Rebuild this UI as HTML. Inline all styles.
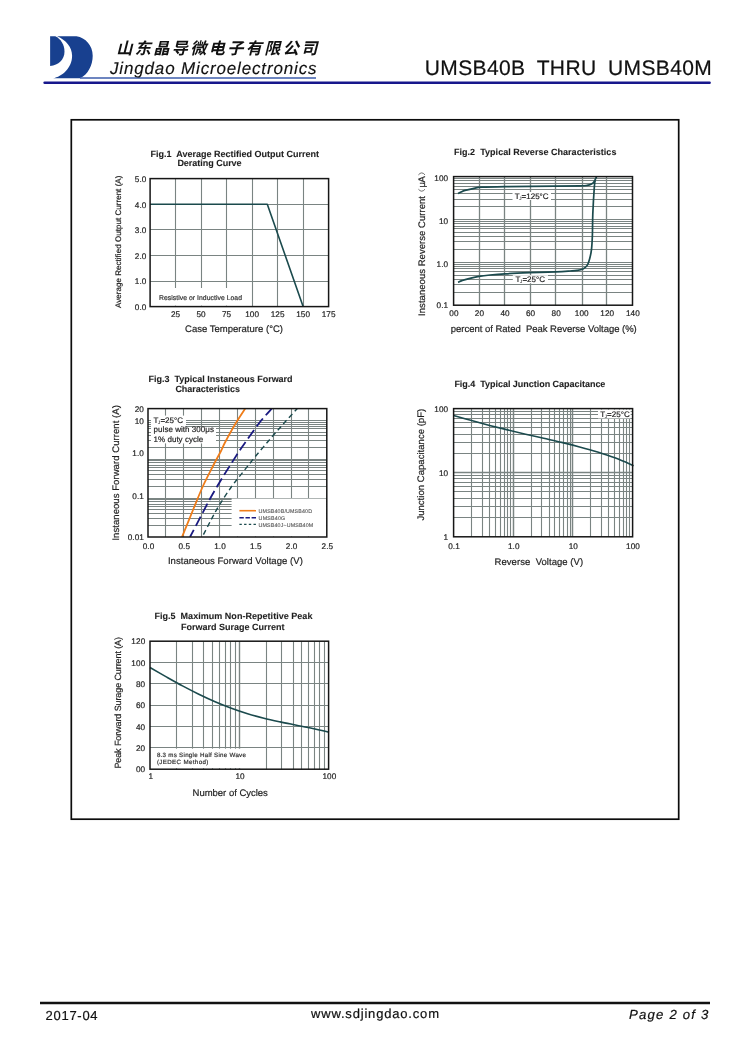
<!DOCTYPE html>
<html><head><meta charset="utf-8"><title>UMSB40B THRU UMSB40M</title>
<style>html,body{margin:0;padding:0;background:#fff}svg{display:block;will-change:transform;filter:blur(.35px)}text{font-family:"Liberation Sans",sans-serif;text-rendering:geometricPrecision}</style></head>
<body>
<svg width="750" height="1060" viewBox="0 0 750 1060">
<!-- header -->
<path d="M50.1,36.2 H55.3 C60.5,38.5 64.5,44.5 64.5,51.5 C64.5,59.5 58.5,65.3 50.1,65.9 Z" fill="#18408f"/>
<path d="M57.1,36.2 H76.5 C85.5,37.5 92.7,45.5 92.7,55.7 C92.7,65.5 88,74 80.2,78.3 H53.1 C62,76.5 72.1,68 72.1,55.7 C72.1,47 66,40 57.1,36.2 Z" fill="#18408f"/>
<line x1="80.00" y1="78.00" x2="316.00" y2="78.00" stroke="#3d5dab" stroke-width="1.6"/>
<line x1="44.60" y1="82.80" x2="709.60" y2="82.80" stroke="#17178c" stroke-width="2.5" stroke-linecap="round"/>
<text x="116.30" y="53.60" font-size="16.1" font-style="italic" font-weight="bold" letter-spacing="2.4" fill="#111" style="font-family:'Liberation Sans','Noto Sans CJK SC',sans-serif" xml:space="preserve">山东晶导微电子有限公司</text>
<text x="110.00" y="73.90" font-size="17" font-style="italic" letter-spacing="0.844" fill="#111" stroke="#111" stroke-width="0.15" xml:space="preserve">Jingdao Microelectronics</text>
<text x="424.80" y="74.80" font-size="21" letter-spacing="0.380" fill="#111" stroke="#111" stroke-width="0.2" word-spacing="5.3" xml:space="preserve">UMSB40B THRU UMSB40M</text>
<rect x="71.30" y="119.80" width="607.40" height="699.40" fill="none" stroke="#0c0c0c" stroke-width="1.7"/>
<line x1="40.00" y1="1003.00" x2="710.00" y2="1003.00" stroke="#111" stroke-width="2.3"/>
<text x="45.60" y="1020.00" font-size="13" letter-spacing="0.715" fill="#111" stroke="#111" stroke-width="0.2" xml:space="preserve">2017-04</text>
<text x="311.00" y="1018.00" font-size="13" letter-spacing="0.819" fill="#111" stroke="#111" stroke-width="0.2" xml:space="preserve">www.sdjingdao.com</text>
<text x="629.00" y="1018.60" font-size="13.2" font-style="italic" letter-spacing="1.188" fill="#111" stroke="#111" stroke-width="0.2" xml:space="preserve">Page 2 of 3</text>
<!-- fig1 -->
<path d="M150.1,204.5H328.6M150.1,229.5H328.6M150.1,255.5H328.6M150.1,281.5H328.6M175.5,178.6V306.6M201.5,178.6V306.6M226.5,178.6V306.6M252.5,178.6V306.6M277.5,178.6V306.6M303.5,178.6V306.6" stroke="#7a8482" stroke-width="1.1" fill="none"/>
<rect x="151.10" y="288.00" width="98.90" height="17.60" fill="#fff" stroke="none" stroke-width="1"/>
<path d="M150.1,204.20 H267.3 L303.10,306.6" stroke="#1b4a4d" stroke-width="1.6" fill="none" stroke-linejoin="round"/>
<rect x="150.10" y="178.60" width="178.50" height="128.00" fill="none" stroke="#161616" stroke-width="1.5"/>
<text x="150.60" y="156.70" font-size="9" font-weight="bold" letter-spacing="0.001" fill="#1f1f1f" stroke="#1f1f1f" stroke-width="0.1" xml:space="preserve">Fig.1  Average Rectified Output Current</text>
<text x="177.40" y="166.40" font-size="9" font-weight="bold" letter-spacing="-0.024" fill="#1f1f1f" stroke="#1f1f1f" stroke-width="0.1" xml:space="preserve">Derating Curve</text>
<text x="146.38" y="182.05" font-size="8.2" letter-spacing="0.080" text-anchor="end" fill="#1f1f1f" stroke="#1f1f1f" stroke-width="0.2" xml:space="preserve">5.0</text>
<text x="146.38" y="207.65" font-size="8.2" letter-spacing="0.080" text-anchor="end" fill="#1f1f1f" stroke="#1f1f1f" stroke-width="0.2" xml:space="preserve">4.0</text>
<text x="146.38" y="233.25" font-size="8.2" letter-spacing="0.080" text-anchor="end" fill="#1f1f1f" stroke="#1f1f1f" stroke-width="0.2" xml:space="preserve">3.0</text>
<text x="146.38" y="258.85" font-size="8.2" letter-spacing="0.080" text-anchor="end" fill="#1f1f1f" stroke="#1f1f1f" stroke-width="0.2" xml:space="preserve">2.0</text>
<text x="146.38" y="284.45" font-size="8.2" letter-spacing="0.080" text-anchor="end" fill="#1f1f1f" stroke="#1f1f1f" stroke-width="0.2" xml:space="preserve">1.0</text>
<text x="146.38" y="310.05" font-size="8.2" letter-spacing="0.080" text-anchor="end" fill="#1f1f1f" stroke="#1f1f1f" stroke-width="0.2" xml:space="preserve">0.0</text>
<text x="175.64" y="317.40" font-size="8.2" letter-spacing="0.080" text-anchor="middle" fill="#1f1f1f" stroke="#1f1f1f" stroke-width="0.2" xml:space="preserve">25</text>
<text x="201.14" y="317.40" font-size="8.2" letter-spacing="0.080" text-anchor="middle" fill="#1f1f1f" stroke="#1f1f1f" stroke-width="0.2" xml:space="preserve">50</text>
<text x="226.64" y="317.40" font-size="8.2" letter-spacing="0.080" text-anchor="middle" fill="#1f1f1f" stroke="#1f1f1f" stroke-width="0.2" xml:space="preserve">75</text>
<text x="252.14" y="317.40" font-size="8.2" letter-spacing="0.080" text-anchor="middle" fill="#1f1f1f" stroke="#1f1f1f" stroke-width="0.2" xml:space="preserve">100</text>
<text x="277.64" y="317.40" font-size="8.2" letter-spacing="0.080" text-anchor="middle" fill="#1f1f1f" stroke="#1f1f1f" stroke-width="0.2" xml:space="preserve">125</text>
<text x="303.14" y="317.40" font-size="8.2" letter-spacing="0.080" text-anchor="middle" fill="#1f1f1f" stroke="#1f1f1f" stroke-width="0.2" xml:space="preserve">150</text>
<text x="328.64" y="317.40" font-size="8.2" letter-spacing="0.080" text-anchor="middle" fill="#1f1f1f" stroke="#1f1f1f" stroke-width="0.2" xml:space="preserve">175</text>
<text x="185.00" y="332.00" font-size="9.5" letter-spacing="0.020" fill="#1f1f1f" stroke="#1f1f1f" stroke-width="0.2" xml:space="preserve">Case Temperature (°C)</text>
<text transform="translate(120.50,308.00) rotate(-90)" font-size="8" letter-spacing="0.039" fill="#1f1f1f" stroke="#1f1f1f" stroke-width="0.2" xml:space="preserve">Average Rectified Output Current (A)</text>
<text x="159.00" y="299.60" font-size="6.8" letter-spacing="0.052" fill="#333" stroke="#333" stroke-width="0.2" xml:space="preserve">Resistive or Inductive Load</text>
<!-- fig2 -->
<path d="M453.6,206.5H632.5M453.6,199.5H632.5M453.6,193.5H632.5M453.6,189.5H632.5M453.6,186.5H632.5M453.6,183.5H632.5M453.6,180.5H632.5M453.6,178.5H632.5M453.6,219.5H632.5M453.6,249.5H632.5M453.6,241.5H632.5M453.6,236.5H632.5M453.6,232.5H632.5M453.6,228.5H632.5M453.6,226.5H632.5M453.6,223.5H632.5M453.6,221.5H632.5M453.6,262.5H632.5M453.6,292.5H632.5M453.6,284.5H632.5M453.6,279.5H632.5M453.6,275.5H632.5M453.6,271.5H632.5M453.6,268.5H632.5M453.6,266.5H632.5M453.6,264.5H632.5" stroke="#7a8482" stroke-width="1.1" fill="none"/>
<path d="M479.5,176.6V305.2M504.5,176.6V305.2M530.5,176.6V305.2M555.5,176.6V305.2M582.5,176.6V305.2M606.5,176.6V305.2" stroke="#7a8482" stroke-width="1.3" fill="none"/>
<rect x="512.50" y="192.00" width="38.50" height="8.00" fill="#fff" stroke="none" stroke-width="1"/>
<rect x="512.80" y="275.20" width="35.20" height="8.00" fill="#fff" stroke="none" stroke-width="1"/>
<path d="M458.00,193.60C458.50,193.33 459.83,192.53 461.00,192.00C462.17,191.47 463.00,190.97 465.00,190.40C467.00,189.83 470.17,189.13 473.00,188.60C475.83,188.07 476.67,187.53 482.00,187.20C487.33,186.87 492.83,186.77 505.00,186.60C517.17,186.43 542.50,186.32 555.00,186.20C567.50,186.08 574.67,186.03 580.00,185.90C585.33,185.77 585.08,185.72 587.00,185.40C588.92,185.08 590.30,184.67 591.50,184.00C592.70,183.33 593.35,182.63 594.20,181.40C595.05,180.17 596.20,177.40 596.60,176.60" stroke="#1b4a4d" stroke-width="1.7" fill="none"/>
<path d="M458.00,282.20C458.67,281.93 460.33,281.17 462.00,280.60C463.67,280.03 465.17,279.50 468.00,278.80C470.83,278.10 475.33,277.03 479.00,276.40C482.67,275.77 485.67,275.43 490.00,275.00C494.33,274.57 498.33,274.18 505.00,273.80C511.67,273.42 521.50,273.03 530.00,272.70C538.50,272.37 549.33,272.08 556.00,271.80C562.67,271.52 566.50,271.23 570.00,271.00C573.50,270.77 574.83,270.75 577.00,270.40C579.17,270.05 581.30,269.73 583.00,268.90C584.70,268.07 586.10,267.05 587.20,265.40C588.30,263.75 588.88,261.67 589.60,259.00C590.32,256.33 591.03,253.40 591.50,249.40C591.97,245.40 592.18,240.90 592.40,235.00C592.62,229.10 592.47,222.17 592.80,214.00C593.13,205.83 593.98,191.58 594.40,186.00C594.82,180.42 595.15,181.42 595.30,180.50" stroke="#1b4a4d" stroke-width="1.7" fill="none"/>
<rect x="453.60" y="176.60" width="178.90" height="128.60" fill="none" stroke="#161616" stroke-width="1.5"/>
<text x="454.00" y="155.30" font-size="9" font-weight="bold" letter-spacing="0.027" fill="#1f1f1f" stroke="#1f1f1f" stroke-width="0.1" xml:space="preserve">Fig.2  Typical Reverse Characteristics</text>
<text x="448.18" y="181.15" font-size="8.2" letter-spacing="0.080" text-anchor="end" fill="#1f1f1f" stroke="#1f1f1f" stroke-width="0.2" xml:space="preserve">100</text>
<text x="448.18" y="223.55" font-size="8.2" letter-spacing="0.080" text-anchor="end" fill="#1f1f1f" stroke="#1f1f1f" stroke-width="0.2" xml:space="preserve">10</text>
<text x="448.18" y="266.65" font-size="8.2" letter-spacing="0.080" text-anchor="end" fill="#1f1f1f" stroke="#1f1f1f" stroke-width="0.2" xml:space="preserve">1.0</text>
<text x="448.18" y="307.95" font-size="8.2" letter-spacing="0.080" text-anchor="end" fill="#1f1f1f" stroke="#1f1f1f" stroke-width="0.2" xml:space="preserve">0.1</text>
<text x="453.94" y="316.40" font-size="8.2" letter-spacing="0.080" text-anchor="middle" fill="#1f1f1f" stroke="#1f1f1f" stroke-width="0.2" xml:space="preserve">00</text>
<text x="479.50" y="316.40" font-size="8.2" letter-spacing="0.080" text-anchor="middle" fill="#1f1f1f" stroke="#1f1f1f" stroke-width="0.2" xml:space="preserve">20</text>
<text x="505.05" y="316.40" font-size="8.2" letter-spacing="0.080" text-anchor="middle" fill="#1f1f1f" stroke="#1f1f1f" stroke-width="0.2" xml:space="preserve">40</text>
<text x="530.61" y="316.40" font-size="8.2" letter-spacing="0.080" text-anchor="middle" fill="#1f1f1f" stroke="#1f1f1f" stroke-width="0.2" xml:space="preserve">60</text>
<text x="556.17" y="316.40" font-size="8.2" letter-spacing="0.080" text-anchor="middle" fill="#1f1f1f" stroke="#1f1f1f" stroke-width="0.2" xml:space="preserve">80</text>
<text x="581.73" y="316.40" font-size="8.2" letter-spacing="0.080" text-anchor="middle" fill="#1f1f1f" stroke="#1f1f1f" stroke-width="0.2" xml:space="preserve">100</text>
<text x="607.28" y="316.40" font-size="8.2" letter-spacing="0.080" text-anchor="middle" fill="#1f1f1f" stroke="#1f1f1f" stroke-width="0.2" xml:space="preserve">120</text>
<text x="632.84" y="316.40" font-size="8.2" letter-spacing="0.080" text-anchor="middle" fill="#1f1f1f" stroke="#1f1f1f" stroke-width="0.2" xml:space="preserve">140</text>
<text x="450.80" y="331.60" font-size="9.5" letter-spacing="-0.023" fill="#1f1f1f" stroke="#1f1f1f" stroke-width="0.2" xml:space="preserve">percent of Rated  Peak Reverse Voltage (%)</text>
<text transform="translate(424.60,315.90) rotate(-90)" font-size="9.5" letter-spacing="0.043" fill="#1f1f1f" stroke="#1f1f1f" stroke-width="0.2" xml:space="preserve">Instaneous Reverse Current</text>
<text transform="translate(424.60,187.50) rotate(-90)" font-size="9.5" letter-spacing="-0.410" fill="#1f1f1f" stroke="#1f1f1f" stroke-width="0.2" xml:space="preserve">μA</text>
<path d="M418.4,189.2 Q421.7,193.2 425,189.2 M418.4,174.9 Q421.7,170.9 425,174.9" stroke="#333" stroke-width="0.7" fill="none"/>
<text x="514.70" y="198.80" font-size="8" fill="#1f1f1f" stroke="#1f1f1f" stroke-width="0.2" xml:space="preserve">T</text>
<text x="519.20" y="200.00" font-size="4.6" fill="#1f1f1f" stroke="#1f1f1f" stroke-width="0.05" xml:space="preserve">J</text>
<text x="521.60" y="198.80" font-size="8" fill="#1f1f1f" stroke="#1f1f1f" stroke-width="0.2" xml:space="preserve">=125°C</text>
<text x="515.50" y="282.20" font-size="8" fill="#1f1f1f" stroke="#1f1f1f" stroke-width="0.2" xml:space="preserve">T</text>
<text x="520.00" y="283.40" font-size="4.6" fill="#1f1f1f" stroke="#1f1f1f" stroke-width="0.05" xml:space="preserve">J</text>
<text x="522.40" y="282.20" font-size="8" letter-spacing="0.038" fill="#1f1f1f" stroke="#1f1f1f" stroke-width="0.2" xml:space="preserve">=25°C</text>
<!-- fig3 -->
<path d="M148.0,420.5H326.8M148.0,447.5H326.8M148.0,440.5H326.8M148.0,435.5H326.8M148.0,432.5H326.8M148.0,428.5H326.8M148.0,426.5H326.8M148.0,424.5H326.8M148.0,422.5H326.8M148.0,486.5H326.8M148.0,479.5H326.8M148.0,474.5H326.8M148.0,470.5H326.8M148.0,467.5H326.8M148.0,465.5H326.8M148.0,462.5H326.8M148.0,460.5H326.8M148.0,525.5H326.8M148.0,518.5H326.8M148.0,513.5H326.8M148.0,509.5H326.8M148.0,506.5H326.8M148.0,504.5H326.8M148.0,501.5H326.8M148.0,499.5H326.8M148.0,459.5H326.8M148.0,498.5H326.8M165.5,408.6V537.0M183.5,408.6V537.0M201.5,408.6V537.0M219.5,408.6V537.0M237.5,408.6V537.0M255.5,408.6V537.0M273.5,408.6V537.0M291.5,408.6V537.0M308.5,408.6V537.0" stroke="#7a8482" stroke-width="1.1" fill="none"/>
<rect x="151.00" y="415.60" width="35.00" height="11.80" fill="#fff" stroke="none" stroke-width="1"/>
<rect x="151.00" y="427.40" width="65.00" height="16.00" fill="#fff" stroke="none" stroke-width="1"/>
<rect x="231.60" y="498.60" width="94.60" height="37.80" fill="#fff" stroke="none" stroke-width="1"/>
<clipPath id="c3"><rect x="148.0" y="408.6" width="178.8" height="128.39999999999998"/></clipPath>
<g clip-path="url(#c3)" fill="none">
<path d="M182.00,537.00C183.83,532.50 189.50,518.50 193.00,510.00C196.50,501.50 199.67,493.33 203.00,486.00C206.33,478.67 210.00,471.83 213.00,466.00C216.00,460.17 219.00,454.92 221.00,451.00C223.00,447.08 222.67,446.92 225.00,442.50C227.33,438.08 231.57,430.25 235.00,424.50C238.43,418.75 243.83,410.75 245.60,408.00" stroke="#ef7d1a" stroke-width="1.8"/>
<path d="M272.30,408.00C270.25,410.33 264.22,416.67 260.00,422.00C255.78,427.33 250.33,435.33 247.00,440.00C243.67,444.67 242.67,446.00 240.00,450.00C237.33,454.00 234.17,459.00 231.00,464.00C227.83,469.00 224.33,474.50 221.00,480.00C217.67,485.50 214.33,491.00 211.00,497.00C207.67,503.00 204.50,509.33 201.00,516.00C197.50,522.67 191.83,533.50 190.00,537.00" stroke="#1a1a80" stroke-width="1.8" stroke-dasharray="10.3,4.27" stroke-dashoffset="0.5"/>
<path d="M297.80,408.00C295.67,410.33 289.47,417.00 285.00,422.00C280.53,427.00 276.00,432.17 271.00,438.00C266.00,443.83 259.67,451.33 255.00,457.00C250.33,462.67 246.83,467.17 243.00,472.00C239.17,476.83 235.83,480.67 232.00,486.00C228.17,491.33 223.50,498.33 220.00,504.00C216.50,509.67 214.00,514.42 211.00,520.00C208.00,525.58 203.50,534.58 202.00,537.50" stroke="#1b4a4d" stroke-width="1.4" stroke-dasharray="5.1,3.45" stroke-dashoffset="0.5"/>
</g>
<line x1="239.40" y1="510.70" x2="256.00" y2="510.70" stroke="#ef7d1a" stroke-width="1.6"/>
<line x1="239.40" y1="517.70" x2="256.00" y2="517.70" stroke="#1a1a80" stroke-width="1.6" stroke-dasharray="4.4,1.7"/>
<line x1="239.40" y1="524.40" x2="256.00" y2="524.40" stroke="#1b4a4d" stroke-width="1.4" stroke-dasharray="2.4,2.3"/>
<text x="258.60" y="512.80" font-size="5.3" letter-spacing="0.153" fill="#555" stroke="#555" stroke-width="0.1" xml:space="preserve">UMSB40B/UMSB40D</text>
<text x="258.60" y="520.00" font-size="5.3" letter-spacing="0.211" fill="#555" stroke="#555" stroke-width="0.1" xml:space="preserve">UMSB40G</text>
<text x="258.60" y="527.10" font-size="5.3" letter-spacing="0.144" fill="#555" stroke="#555" stroke-width="0.1" xml:space="preserve">UMSB40J~UMSB40M</text>
<rect x="148.00" y="408.60" width="178.80" height="128.40" fill="none" stroke="#161616" stroke-width="1.5"/>
<text x="148.60" y="382.00" font-size="9" font-weight="bold" letter-spacing="-0.011" fill="#1f1f1f" stroke="#1f1f1f" stroke-width="0.1" xml:space="preserve">Fig.3  Typical Instaneous Forward</text>
<text x="175.40" y="392.40" font-size="9" font-weight="bold" letter-spacing="-0.031" fill="#1f1f1f" stroke="#1f1f1f" stroke-width="0.1" xml:space="preserve">Characteristics</text>
<text x="143.98" y="412.35" font-size="8.2" letter-spacing="0.080" text-anchor="end" fill="#1f1f1f" stroke="#1f1f1f" stroke-width="0.2" xml:space="preserve">20</text>
<text x="143.98" y="423.85" font-size="8.2" letter-spacing="0.080" text-anchor="end" fill="#1f1f1f" stroke="#1f1f1f" stroke-width="0.2" xml:space="preserve">10</text>
<text x="143.98" y="455.55" font-size="8.2" letter-spacing="0.080" text-anchor="end" fill="#1f1f1f" stroke="#1f1f1f" stroke-width="0.2" xml:space="preserve">1.0</text>
<text x="143.98" y="498.75" font-size="8.2" letter-spacing="0.080" text-anchor="end" fill="#1f1f1f" stroke="#1f1f1f" stroke-width="0.2" xml:space="preserve">0.1</text>
<text x="143.98" y="539.65" font-size="8.2" letter-spacing="0.080" text-anchor="end" fill="#1f1f1f" stroke="#1f1f1f" stroke-width="0.2" xml:space="preserve">0.01</text>
<text x="148.54" y="548.70" font-size="8.2" letter-spacing="0.080" text-anchor="middle" fill="#1f1f1f" stroke="#1f1f1f" stroke-width="0.2" xml:space="preserve">0.0</text>
<text x="184.30" y="548.70" font-size="8.2" letter-spacing="0.080" text-anchor="middle" fill="#1f1f1f" stroke="#1f1f1f" stroke-width="0.2" xml:space="preserve">0.5</text>
<text x="220.06" y="548.70" font-size="8.2" letter-spacing="0.080" text-anchor="middle" fill="#1f1f1f" stroke="#1f1f1f" stroke-width="0.2" xml:space="preserve">1.0</text>
<text x="255.82" y="548.70" font-size="8.2" letter-spacing="0.080" text-anchor="middle" fill="#1f1f1f" stroke="#1f1f1f" stroke-width="0.2" xml:space="preserve">1.5</text>
<text x="291.58" y="548.70" font-size="8.2" letter-spacing="0.080" text-anchor="middle" fill="#1f1f1f" stroke="#1f1f1f" stroke-width="0.2" xml:space="preserve">2.0</text>
<text x="327.34" y="548.70" font-size="8.2" letter-spacing="0.080" text-anchor="middle" fill="#1f1f1f" stroke="#1f1f1f" stroke-width="0.2" xml:space="preserve">2.5</text>
<text x="167.90" y="564.10" font-size="9.5" letter-spacing="0.045" fill="#1f1f1f" stroke="#1f1f1f" stroke-width="0.2" xml:space="preserve">Instaneous Forward Voltage (V)</text>
<text transform="translate(119.20,540.60) rotate(-90)" font-size="9.5" letter-spacing="0.066" fill="#1f1f1f" stroke="#1f1f1f" stroke-width="0.2" xml:space="preserve">Instaneous Forward Current (A)</text>
<text x="153.50" y="422.70" font-size="8" fill="#1f1f1f" stroke="#1f1f1f" stroke-width="0.2" xml:space="preserve">T</text>
<text x="158.00" y="423.90" font-size="4.6" fill="#1f1f1f" stroke="#1f1f1f" stroke-width="0.05" xml:space="preserve">J</text>
<text x="160.40" y="422.70" font-size="8" letter-spacing="0.038" fill="#1f1f1f" stroke="#1f1f1f" stroke-width="0.2" xml:space="preserve">=25°C</text>
<text x="153.60" y="432.00" font-size="8" letter-spacing="0.043" fill="#1f1f1f" stroke="#1f1f1f" stroke-width="0.2" xml:space="preserve">pulse with 300μs</text>
<text x="153.60" y="441.50" font-size="8" letter-spacing="0.020" fill="#1f1f1f" stroke="#1f1f1f" stroke-width="0.2" xml:space="preserve">1% duty cycle</text>
<!-- fig4 -->
<path d="M453.6,453.5H632.6M453.6,442.5H632.6M453.6,434.5H632.6M453.6,427.5H632.6M453.6,422.5H632.6M453.6,418.5H632.6M453.6,414.5H632.6M453.6,411.5H632.6M453.6,472.5H632.6M453.6,517.5H632.6M453.6,506.5H632.6M453.6,498.5H632.6M453.6,491.5H632.6M453.6,486.5H632.6M453.6,482.5H632.6M453.6,478.5H632.6M453.6,475.5H632.6M471.5,408.6V536.8M482.5,408.6V536.8M489.5,408.6V536.8M495.5,408.6V536.8M500.5,408.6V536.8M504.5,408.6V536.8M507.5,408.6V536.8M510.5,408.6V536.8M513.5,408.6V536.8M531.5,408.6V536.8M541.5,408.6V536.8M549.5,408.6V536.8M554.5,408.6V536.8M559.5,408.6V536.8M563.5,408.6V536.8M567.5,408.6V536.8M570.5,408.6V536.8M572.5,408.6V536.8M590.5,408.6V536.8M601.5,408.6V536.8M608.5,408.6V536.8M614.5,408.6V536.8M619.5,408.6V536.8M623.5,408.6V536.8M626.5,408.6V536.8M629.5,408.6V536.8" stroke="#7a8482" stroke-width="1.1" fill="none"/>
<path d="M453.6,472.5H632.6M513.5,408.6V536.8M572.5,408.6V536.8" stroke="#7a8482" stroke-width="1.4" fill="none"/>
<rect x="598.00" y="409.60" width="32.60" height="8.80" fill="#fff" stroke="none" stroke-width="1"/>
<path d="M453.60,415.60C456.60,416.43 465.60,418.97 471.60,420.60C477.60,422.23 483.60,423.85 489.60,425.40C495.60,426.95 501.60,428.43 507.60,429.90C513.60,431.37 519.60,432.80 525.60,434.20C531.60,435.60 537.60,436.93 543.60,438.30C549.60,439.67 555.60,440.97 561.60,442.40C567.60,443.83 573.60,445.30 579.60,446.90C585.60,448.50 591.60,450.13 597.60,452.00C603.60,453.87 609.60,455.82 615.60,458.10C621.60,460.38 630.60,464.43 633.60,465.70" stroke="#1b4a4d" stroke-width="1.6" fill="none"/>
<rect x="453.60" y="408.60" width="179.00" height="128.20" fill="none" stroke="#161616" stroke-width="1.5"/>
<text x="454.40" y="387.40" font-size="9" font-weight="bold" letter-spacing="-0.026" fill="#1f1f1f" stroke="#1f1f1f" stroke-width="0.1" xml:space="preserve">Fig.4  Typical Junction Capacitance</text>
<text x="448.18" y="412.35" font-size="8.2" letter-spacing="0.080" text-anchor="end" fill="#1f1f1f" stroke="#1f1f1f" stroke-width="0.2" xml:space="preserve">100</text>
<text x="448.18" y="475.65" font-size="8.2" letter-spacing="0.080" text-anchor="end" fill="#1f1f1f" stroke="#1f1f1f" stroke-width="0.2" xml:space="preserve">10</text>
<text x="448.18" y="540.05" font-size="8.2" letter-spacing="0.080" text-anchor="end" fill="#1f1f1f" stroke="#1f1f1f" stroke-width="0.2" xml:space="preserve">1</text>
<text x="454.04" y="549.40" font-size="8.2" letter-spacing="0.080" text-anchor="middle" fill="#1f1f1f" stroke="#1f1f1f" stroke-width="0.2" xml:space="preserve">0.1</text>
<text x="513.71" y="549.40" font-size="8.2" letter-spacing="0.080" text-anchor="middle" fill="#1f1f1f" stroke="#1f1f1f" stroke-width="0.2" xml:space="preserve">1.0</text>
<text x="573.37" y="549.40" font-size="8.2" letter-spacing="0.080" text-anchor="middle" fill="#1f1f1f" stroke="#1f1f1f" stroke-width="0.2" xml:space="preserve">10</text>
<text x="633.04" y="549.40" font-size="8.2" letter-spacing="0.080" text-anchor="middle" fill="#1f1f1f" stroke="#1f1f1f" stroke-width="0.2" xml:space="preserve">100</text>
<text x="494.60" y="564.70" font-size="9.5" letter-spacing="0.044" fill="#1f1f1f" stroke="#1f1f1f" stroke-width="0.2" xml:space="preserve">Reverse  Voltage (V)</text>
<text transform="translate(424.00,520.60) rotate(-90)" font-size="9.5" letter-spacing="0.038" fill="#1f1f1f" stroke="#1f1f1f" stroke-width="0.2" xml:space="preserve">Junction Capacitance (pF)</text>
<text x="600.20" y="416.60" font-size="8" fill="#1f1f1f" stroke="#1f1f1f" stroke-width="0.2" xml:space="preserve">T</text>
<text x="604.70" y="417.80" font-size="4.6" fill="#1f1f1f" stroke="#1f1f1f" stroke-width="0.05" xml:space="preserve">J</text>
<text x="607.10" y="416.60" font-size="8" letter-spacing="0.038" fill="#1f1f1f" stroke="#1f1f1f" stroke-width="0.2" xml:space="preserve">=25°C</text>
<!-- fig5 -->
<path d="M150.0,662.5H328.6M150.0,683.5H328.6M150.0,705.5H328.6M150.0,726.5H328.6M150.0,747.5H328.6M176.5,641.2V769.2M192.5,641.2V769.2M203.5,641.2V769.2M212.5,641.2V769.2M219.5,641.2V769.2M225.5,641.2V769.2M230.5,641.2V769.2M235.5,641.2V769.2M266.5,641.2V769.2M281.5,641.2V769.2M293.5,641.2V769.2M301.5,641.2V769.2M308.5,641.2V769.2M314.5,641.2V769.2M319.5,641.2V769.2M324.5,641.2V769.2" stroke="#7a8482" stroke-width="1.1" fill="none"/>
<path d="M239.5,641.2V769.2" stroke="#7a8482" stroke-width="1.4" fill="none"/>
<rect x="151.00" y="748.67" width="99.00" height="19.53" fill="#fff" stroke="none" stroke-width="1"/>
<path d="M150.00,667.50C152.72,669.07 160.88,673.83 166.30,676.90C171.72,679.97 177.08,683.02 182.50,685.90C187.92,688.78 193.37,691.57 198.80,694.20C204.23,696.83 209.67,699.37 215.10,701.70C220.53,704.03 225.98,706.20 231.40,708.20C236.82,710.20 242.18,712.03 247.60,713.70C253.02,715.37 258.47,716.83 263.90,718.20C269.33,719.57 274.77,720.73 280.20,721.90C285.63,723.07 291.08,724.10 296.50,725.20C301.92,726.30 307.28,727.33 312.70,728.50C318.12,729.67 326.28,731.58 329.00,732.20" stroke="#1b4a4d" stroke-width="1.6" fill="none"/>
<rect x="150.00" y="641.20" width="178.60" height="128.00" fill="none" stroke="#161616" stroke-width="1.5"/>
<text x="154.40" y="619.00" font-size="9" font-weight="bold" letter-spacing="0.029" fill="#1f1f1f" stroke="#1f1f1f" stroke-width="0.1" xml:space="preserve">Fig.5  Maximum Non-Repetitive Peak</text>
<text x="181.00" y="629.60" font-size="9" font-weight="bold" fill="#1f1f1f" stroke="#1f1f1f" stroke-width="0.1" xml:space="preserve">Forward Surage Current</text>
<text x="145.28" y="644.45" font-size="8.2" letter-spacing="0.080" text-anchor="end" fill="#1f1f1f" stroke="#1f1f1f" stroke-width="0.2" xml:space="preserve">120</text>
<text x="145.28" y="665.78" font-size="8.2" letter-spacing="0.080" text-anchor="end" fill="#1f1f1f" stroke="#1f1f1f" stroke-width="0.2" xml:space="preserve">100</text>
<text x="145.28" y="687.12" font-size="8.2" letter-spacing="0.080" text-anchor="end" fill="#1f1f1f" stroke="#1f1f1f" stroke-width="0.2" xml:space="preserve">80</text>
<text x="145.28" y="708.45" font-size="8.2" letter-spacing="0.080" text-anchor="end" fill="#1f1f1f" stroke="#1f1f1f" stroke-width="0.2" xml:space="preserve">60</text>
<text x="145.28" y="729.78" font-size="8.2" letter-spacing="0.080" text-anchor="end" fill="#1f1f1f" stroke="#1f1f1f" stroke-width="0.2" xml:space="preserve">40</text>
<text x="145.28" y="751.12" font-size="8.2" letter-spacing="0.080" text-anchor="end" fill="#1f1f1f" stroke="#1f1f1f" stroke-width="0.2" xml:space="preserve">20</text>
<text x="145.28" y="772.45" font-size="8.2" letter-spacing="0.080" text-anchor="end" fill="#1f1f1f" stroke="#1f1f1f" stroke-width="0.2" xml:space="preserve">00</text>
<text x="150.84" y="779.10" font-size="8.2" letter-spacing="0.080" text-anchor="middle" fill="#1f1f1f" stroke="#1f1f1f" stroke-width="0.2" xml:space="preserve">1</text>
<text x="240.14" y="779.10" font-size="8.2" letter-spacing="0.080" text-anchor="middle" fill="#1f1f1f" stroke="#1f1f1f" stroke-width="0.2" xml:space="preserve">10</text>
<text x="329.44" y="779.10" font-size="8.2" letter-spacing="0.080" text-anchor="middle" fill="#1f1f1f" stroke="#1f1f1f" stroke-width="0.2" xml:space="preserve">100</text>
<text x="192.60" y="795.60" font-size="9.5" letter-spacing="-0.020" fill="#1f1f1f" stroke="#1f1f1f" stroke-width="0.2" xml:space="preserve">Number of Cycles</text>
<text transform="translate(121.20,768.60) rotate(-90)" font-size="9" letter-spacing="-0.099" fill="#1f1f1f" stroke="#1f1f1f" stroke-width="0.2" xml:space="preserve">Peak Forward Surage Current (A)</text>
<text x="156.90" y="756.60" font-size="6.2" letter-spacing="0.275" fill="#333" stroke="#333" stroke-width="0.2" xml:space="preserve">8.3 ms Single Half Sine Wave</text>
<text x="156.90" y="764.20" font-size="6.2" letter-spacing="0.357" fill="#333" stroke="#333" stroke-width="0.2" xml:space="preserve">(JEDEC Method)</text>
</svg>
</body></html>
